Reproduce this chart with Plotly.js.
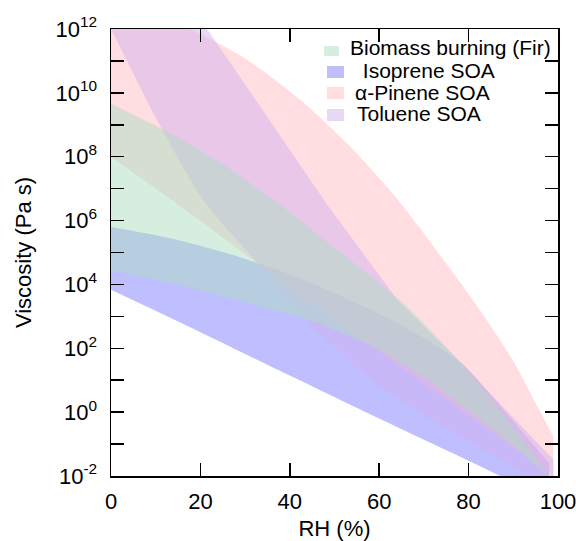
<!DOCTYPE html>
<html>
<head>
<meta charset="utf-8">
<script src="https://cdn.plot.ly/plotly-3.0.1.min.js"></script>
<style>html,body{margin:0;padding:0;background:#fff;}#chart{width:576px;height:541px;}</style>
</head>
<body>
<div id="chart"></div>
<script>
// RH (%) and viscosity (Pa s) for the upper and lower edge of each band
const isopreneUpperRH  = [0, 12.8, 25.6, 36, 46.9, 57, 67, 78.3, 88, 98];
const isopreneUpperEta = [6.3e5, 2.9e5, 9.8e4, 3.3e4, 8.3e3, 1.9e3, 3.7e2, 35, 1.1, 2.5e-2];
const isopreneLowerRH  = [0, 20, 40, 60, 80, 98];
const isopreneLowerEta = [6.8e3, 3.2e2, 14, 0.63, 3.0e-2, 1.8e-3];

const pineneUpperRH  = [0, 10, 17.7, 30, 42.4, 53.6, 64.8, 75, 82, 90, 94.6, 98.9];
const pineneUpperEta = [5e12, 2.5e12, 1e12, 1.2e11, 6e9, 2e8, 3.5e6, 4.5e4, 2e3, 40, 2.4, 0.18];
const pineneLowerRH  = [0, 14, 30, 47, 60, 75, 90, 98.9];
const pineneLowerEta = [1e8, 4e6, 8.9e4, 1.6e3, 79, 2.5, 7.9e-2, 1e-2];

const tolueneUpperRH  = [0, 21.5, 48.4, 64.1, 78.3, 99];
const tolueneUpperEta = [1e12, 1e12, 3.1e6, 3.2e3, 35, 3.2e-2];
const tolueneLowerRH  = [0, 10.3, 20.6, 31.8, 44.2, 60.3, 75, 92.4, 99];
const tolueneLowerEta = [1e12, 1.4e9, 4.4e6, 6.6e4, 6.3e2, 6.2, 0.3, 1.3e-2, 3.5e-3];

const biomassUpperRH  = [0, 11, 24, 36.4, 50, 65.5, 78.3, 88, 98];
const biomassUpperEta = [4.5e9, 7.9e8, 7.1e7, 4.4e6, 1.4e5, 2.5e3, 35, 0.79, 8.9e-3];
const biomassLowerRH  = [0, 15, 30, 45, 60, 70, 80, 90, 98];
const biomassLowerEta = [2.8e4, 1.0e4, 2.8e3, 7.1e2, 89, 12.6, 1.1, 0.089, 8.9e-3];

const seriesNames = ['Biomass burning (Fir)', '\u00a0Isoprene SOA', '\u03b1-Pinene SOA', 'Toluene SOA'];
const yLabelExponents = [-2, 0, 2, 4, 6, 8, 10, 12];
const xTickVals = [0, 20, 40, 60, 80, 100];

const colors = {
  biomass: 'rgba(173,221,193,0.5)',
  isoprene: 'rgba(127,127,255,0.5)',
  pinene: 'rgba(255,187,193,0.5)',
  toluene: 'rgba(209,177,241,0.5)'
};

function band(lx, ly, ux, uy, color, upperShape) {
  return [
    {x: lx, y: ly, mode: 'lines', line: {width: 0, shape: 'spline', smoothing: 0.7}, hoverinfo: 'skip', showlegend: false},
    {x: ux, y: uy, mode: 'lines', line: {width: 0, shape: upperShape || 'spline', smoothing: 0.7}, fill: 'tonexty', fillcolor: color, hoverinfo: 'skip', showlegend: false}
  ];
}

const data = [].concat(
  band(isopreneLowerRH, isopreneLowerEta, isopreneUpperRH, isopreneUpperEta, colors.isoprene),
  band(pineneLowerRH, pineneLowerEta, pineneUpperRH, pineneUpperEta, colors.pinene),
  band(tolueneLowerRH, tolueneLowerEta, tolueneUpperRH, tolueneUpperEta, colors.toluene, 'linear'),
  band(biomassLowerRH, biomassLowerEta, biomassUpperRH, biomassUpperEta, colors.biomass)
);

const L = 111, R = 558, T = 29, B = 476;
const W = R - L, H = B - T;
const px = v => (v - L) / W;
const py = v => (B - v) / H;

const legendItems = [
  {name: seriesNames[0], color: colors.biomass, sw: [324, 339, 46, 56], tx: 348, ty: 47},
  {name: seriesNames[1], color: colors.isoprene, sw: [327, 344, 66, 78], tx: 355, ty: 70.5},
  {name: seriesNames[2], color: colors.pinene, sw: [327, 344, 87, 99], tx: 353, ty: 92},
  {name: seriesNames[3], color: colors.toluene, sw: [327, 344, 109, 121], tx: 355, ty: 113.5}
];

const shapes = legendItems.map(it => ({
  type: 'rect', xref: 'paper', yref: 'paper',
  x0: px(it.sw[0]), x1: px(it.sw[1]), y0: py(it.sw[3]), y1: py(it.sw[2]),
  fillcolor: it.color, line: {width: 0}, layer: 'above'
}));
const annotations = legendItems.map(it => ({
  xref: 'paper', yref: 'paper', x: px(it.tx), y: py(it.ty),
  xanchor: 'left', yanchor: 'middle', showarrow: false, text: it.name,
  font: {family: 'Liberation Sans, Arial, sans-serif', size: 21, color: '#000'}
}));

const font = {family: 'Liberation Sans, Arial, sans-serif', color: '#000'};

const layout = {
  width: 576, height: 541,
  margin: {l: L, r: 576 - R, t: T, b: 541 - B, pad: 0},
  paper_bgcolor: '#fff', plot_bgcolor: '#fff',
  showlegend: false,
  font: font,
  xaxis: {
    range: [0, 100], tickvals: xTickVals, ticks: 'inside', ticklen: 13, tickwidth: 1.5, tickcolor: '#000',
    showline: true, linecolor: '#000', linewidth: 1.5, mirror: 'ticks', showgrid: false, zeroline: false,
    tickfont: {family: font.family, size: 22, color: '#000'}, ticklabelstandoff: 5, ticklabeloverflow: 'allow',
    title: {text: 'RH (%)', font: {family: font.family, size: 22, color: '#000'}, standoff: 8}
  },
  yaxis: {
    type: 'log', range: [-2, 12],
    tickvals: yLabelExponents.map(e => Math.pow(10, e)),
    ticktext: yLabelExponents.map(e => '10<sup>' + e + '</sup>'),
    ticks: 'inside', ticklen: 13, tickwidth: 1.5, tickcolor: '#000',
    minor: {dtick: 1, ticks: 'inside', ticklen: 13, tickwidth: 1.5, tickcolor: '#000', showgrid: false},
    showline: true, linecolor: '#000', linewidth: 1.5, mirror: 'ticks', showgrid: false, zeroline: false,
    tickfont: {family: font.family, size: 22, color: '#000'}, ticklabelstandoff: 8,
    title: {text: 'Viscosity (Pa s)', font: {family: font.family, size: 22, color: '#000'}, standoff: 18}
  },
  shapes: shapes,
  annotations: annotations
};

Plotly.newPlot('chart', data, layout, {staticPlot: true, displayModeBar: false});
</script>
</body>
</html>
